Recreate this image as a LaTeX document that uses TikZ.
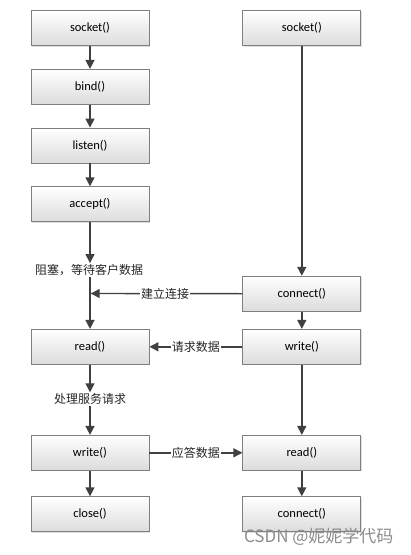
\documentclass[tikz,border=0pt]{standalone}
\usepackage{fontspec}
\setmainfont{Carlito}
\newfontfamily\cjk{Noto Sans CJK SC}
\usetikzlibrary{arrows.meta,shadows}
\definecolor{linegray}{HTML}{404040}
\definecolor{boxborder}{HTML}{7F7F7F}
\definecolor{boxbottom}{HTML}{DCDCDC}
\tikzset{
  fbox/.style={draw=boxborder, line width=0.8pt, top color=white, bottom color=boxbottom,
    minimum width=118pt, minimum height=35pt, inner sep=0pt,
    font=\fontsize{12.5}{14}\selectfont, drop shadow={shadow xshift=1pt, shadow yshift=-1pt, opacity=0.25}},
  flow/.style={draw=linegray, line width=1.4pt, -{Triangle[length=9pt,width=9pt]}},
  lbl/.style={font=\cjk\fontsize{12}{14}\selectfont, fill=white, inner sep=1pt, text=black!85},
  txt/.style={font=\cjk\fontsize{12}{14}\selectfont, inner sep=1pt, text=black!85}
}
\begin{document}
\begin{tikzpicture}[x=1pt,y=-1pt]
\useasboundingbox (0,0) rectangle (411,555);
% left column
\node[fbox] (s1) at (90,28.2) {socket()};
\node[fbox] (bind) at (90,86.8) {bind()};
\node[fbox] (listen) at (90,145.5) {listen()};
\node[fbox] (accept) at (90,204.2) {accept()};
\node[txt] (block) at (89,270) {阻塞，等待客户数据};
\node[fbox] (read1) at (90,346.8) {read()};
\node[txt] (proc) at (90,399) {处理服务请求};
\node[fbox] (write1) at (90,452.8) {write()};
\node[fbox] (close) at (90,514.2) {close()};
% right column
\node[fbox] (s2) at (301.8,28.2) {socket()};
\node[fbox] (conn) at (301.8,293.7) {connect()};
\node[fbox] (write2) at (301.8,346.8) {write()};
\node[fbox] (read2) at (301.8,452.8) {read()};
\node[fbox] (conn2) at (301.8,514.2) {connect()};
% left arrows
\draw[flow] (s1) -- (bind);
\draw[flow] (bind) -- (listen);
\draw[flow] (listen) -- (accept);
\draw[flow] (accept) -- (accept |- block.north);
\draw[flow] (block.south -| read1.north) -- (read1);
\draw[flow] (read1) -- (proc);
\draw[flow] (proc) -- (write1);
\draw[flow] (write1) -- (close);
% right arrows
\draw[flow] (s2) -- (conn);
\draw[flow] (conn) -- (write2);
\draw[flow] (write2) -- (read2);
\draw[flow] (read2) -- (conn2);
% cross arrows
\coordinate (c1) at (90.7,293.5);
\draw[flow] (conn.west) -- node[lbl, pos=0.51] {建立连接} (c1);
\draw[flow] (write2.west) -- node[lbl, pos=0.5] {请求数据} (read1.east);
\draw[flow] (write1.east) -- node[lbl, pos=0.5] {应答数据} (read2.west);
% watermark
\node[font=\cjk\fontsize{17}{19}\selectfont, text=black!45, anchor=east] (wm2) at (397,537) {CSDN @妮妮学代码};
\end{tikzpicture}
\end{document}
